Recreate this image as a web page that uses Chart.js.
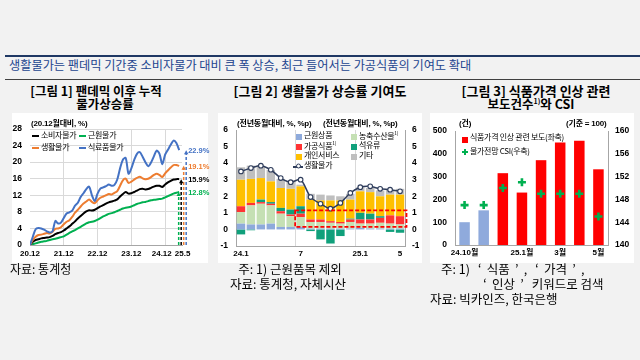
<!DOCTYPE html>
<html><head><meta charset="utf-8">
<script src="https://cdn.jsdelivr.net/npm/chart.js@4"></script>
<style>
body{margin:0;width:640px;height:360px;background:#f2f2f2;position:relative;overflow:hidden;font-family:"Noto Sans CJK KR","Noto Sans",sans-serif;color:#000;}
.a{position:absolute;white-space:nowrap;line-height:1.15;}
.c{transform:translateX(-50%);}
.panel{position:absolute;background:#fff;}
canvas{position:absolute;}
.ax{font-family:"Liberation Sans",Arial,sans-serif;font-weight:bold;font-size:8px;letter-spacing:-0.2px;}
.ax k{font-family:"Noto Sans CJK KR";}
.lg{font-size:8px;letter-spacing:-0.3px;}
.sq{position:absolute;width:6px;height:6px;}
.ln{position:absolute;height:2px;width:7px;}
.q{display:inline-block;width:14px;text-align:center;}
</style></head>
<body>
<div class="a" style="left:5px;top:55px;width:635px;height:2px;background:#1f3864;"></div>
<div class="a" style="left:9px;top:58px;font-size:12.2px;color:#23458f;">생활물가는 팬데믹 기간중 소비자물가 대비 큰 폭 상승, 최근 들어서는 가공식품의 기여도 확대</div>
<div class="a" style="left:5px;top:79px;width:635px;height:1px;background:#404040;"></div>

<div class="a c" style="left:96px;top:84px;font-size:12.5px;font-weight:bold;">[그림 1] 팬데믹 이후 누적</div>
<div class="a c" style="left:105px;top:97px;font-size:12.5px;font-weight:bold;">물가상승률</div>
<div class="a c" style="left:320px;top:84px;font-size:13px;font-weight:bold;">[그림 2] 생활물가 상승률 기여도</div>
<div class="a c" style="left:536px;top:84px;font-size:13px;font-weight:bold;">[그림 3] 식품가격 인상 관련</div>
<div class="a c" style="left:531px;top:97px;font-size:12.5px;font-weight:bold;">보도건수<sup style="font-size:7px">1)</sup>와 CSI</div>

<div class="panel" style="left:12px;top:113px;width:196px;height:150px;"></div>
<div class="panel" style="left:218px;top:113px;width:204px;height:150px;"></div>
<div class="panel" style="left:430px;top:113px;width:204px;height:150px;"></div>

<canvas id="c1" width="200" height="152" style="left:10px;top:113px;"></canvas>
<canvas id="c2" width="206" height="152" style="left:216px;top:113px;"></canvas>
<canvas id="c3" width="206" height="152" style="left:428px;top:113px;"></canvas>

<!-- chart 1 overlays -->
<div class="a ax" style="left:31px;top:118px;">(20.12<k>월대비</k>, %)</div>
<div class="ln" style="left:32px;top:135px;background:#000;"></div>
<div class="a lg" style="left:41px;top:130px;">소비자물가</div>
<div class="ln" style="left:79px;top:135px;background:#00b050;"></div>
<div class="a lg" style="left:88px;top:130px;">근원물가</div>
<div class="ln" style="left:32px;top:147px;background:#ed7d31;"></div>
<div class="a lg" style="left:41px;top:142px;">생활물가</div>
<div class="ln" style="left:79px;top:147px;background:#4472c4;"></div>
<div class="a lg" style="left:88px;top:142px;">식료품물가</div>

<!-- chart 2 overlays -->
<div class="a ax" style="left:237px;top:118px;">(<k>전년동월대비</k>, %, %p)</div>
<div class="a ax" style="left:323px;top:118px;">(<k>전년동월대비</k>, %, %p)</div>
<div class="sq" style="left:296px;top:134px;background:#8eaadb;"></div>
<div class="a lg" style="left:304px;top:130px;">근원상품</div>
<div class="sq" style="left:351px;top:134px;background:#c5e0b4;"></div>
<div class="a lg" style="left:359px;top:130px;">농축수산물<sup style="font-size:5px">1)</sup></div>
<div class="sq" style="left:296px;top:144px;background:#ff3333;"></div>
<div class="a lg" style="left:304px;top:140px;">가공식품<sup style="font-size:5px">1)</sup></div>
<div class="sq" style="left:351px;top:144px;background:#10a07b;"></div>
<div class="a lg" style="left:359px;top:140px;">석유류</div>
<div class="sq" style="left:296px;top:154px;background:#ffc000;"></div>
<div class="a lg" style="left:304px;top:150px;">개인서비스</div>
<div class="sq" style="left:351px;top:154px;background:#bfbfbf;"></div>
<div class="a lg" style="left:359px;top:150px;">기타</div>
<div class="a" style="left:293px;top:166px;width:10px;height:1.5px;background:#2f3d5c;"></div>
<div class="a" style="left:295.5px;top:164.5px;width:5px;height:5px;border:1px solid #2f3d5c;border-radius:50%;background:#fff;box-sizing:border-box;transform:translateY(-1.5px);"></div>
<div class="a lg" style="left:304px;top:160px;">생활물가</div>

<!-- chart 3 overlays -->
<div class="a ax" style="left:459px;top:118px;">(<k>건</k>)</div>
<div class="a ax" style="left:566px;top:118px;">(<k>기준</k> = 100)</div>
<div class="sq" style="left:462px;top:137px;background:#ff0000;"></div>
<div class="a lg" style="left:470px;top:132px;">식품가격 인상 관련 보도(좌축)</div>
<div class="a" style="left:462px;top:151px;width:6px;height:2px;background:#00b050;"></div>
<div class="a" style="left:464px;top:149px;width:2px;height:6px;background:#00b050;"></div>
<div class="a lg" style="left:470px;top:146px;">물가전망 CSI(우축)</div>

<!-- notes -->
<div class="a" style="left:10px;top:262px;font-size:12px;">자료: 통계청</div>
<div class="a c" style="left:290px;top:262px;font-size:12.5px;">주: 1) 근원품목 제외</div>
<div class="a c" style="left:288px;top:277px;font-size:12.5px;">자료: 통계청, 자체시산</div>
<div class="a" style="left:441px;top:262px;font-size:12.5px;">주: 1) <span class="q">‘</span>식품<span class="q">’</span>, <span class="q">‘</span>가격<span class="q">’</span>,</div>
<div class="a" style="left:478px;top:277px;font-size:12.5px;"><span class="q">‘</span>인상<span class="q">’</span> 키워드로 검색</div>
<div class="a" style="left:430px;top:292px;font-size:12.5px;">자료: 빅카인즈, 한국은행</div>

<script>
// ---------- Chart 1 data (cumulative % since 2020.12, monthly 20.12 ~ 25.5) ----------
const tickIdx1 = [0, 12, 24, 36, 48, 53];
const tickLabels1 = ['20.12', '21.12', '22.12', '23.12', '24.12', '25.5'];
const food1 = [0,2.0,3.8,4.1,4.0,3.7,3.3,3.0,3.3,5.8,5.2,5.4,6.5,7.6,7.9,8.3,9.5,10.2,11.6,12.5,13.5,14.1,12.0,10.6,12.4,13.6,13.9,14.2,14.6,14.3,14.5,15.8,18.5,20.6,21.0,17.2,18.5,20.5,22.0,22.4,21.3,20.0,19.0,19.9,21.4,22.8,22.0,19.5,21.8,23.0,24.2,25.2,24.6,22.9];
const living1 = [0,1.2,2.0,2.4,2.5,2.7,2.9,2.8,3.2,3.9,4.0,4.3,5.0,5.6,6.0,6.8,7.8,8.5,9.3,10.0,10.5,11.0,10.4,10.1,10.8,11.4,11.7,12.0,12.3,12.2,12.6,13.0,14.3,15.6,16.0,15.0,15.3,15.8,16.2,16.5,16.1,15.9,16.0,16.4,16.9,17.2,16.9,16.4,17.3,18.0,18.7,19.3,19.3,19.1];
const cpi1 = [0,0.8,1.2,1.4,1.6,1.7,1.8,1.9,2.2,2.6,2.9,3.1,3.5,4.0,4.5,5.1,5.7,6.4,7.0,7.6,8.1,8.4,8.3,8.5,8.9,9.3,9.6,10.0,10.3,10.5,10.7,11.0,11.7,12.3,12.8,12.4,12.5,12.8,13.1,13.5,13.6,13.4,13.5,13.8,14.1,14.3,14.3,14.0,14.6,15.1,15.5,15.8,15.9,15.9];
const core1 = [0,0.2,0.4,0.6,0.8,0.9,1.0,1.2,1.4,1.5,1.7,1.9,2.1,2.5,2.9,3.3,3.6,4.0,4.4,4.8,5.2,5.5,5.6,5.8,6.1,6.5,6.9,7.2,7.5,7.7,7.9,8.2,8.5,8.8,9.0,9.1,9.3,9.6,9.9,10.1,10.3,10.4,10.6,10.8,10.9,11.0,11.1,11.2,11.5,11.8,12.1,12.4,12.6,12.8];

// ---------- Chart 2 data (contribution, %p; 24.1 ~ 25.5) ----------
const months2 = ['24.1','24.2','24.3','24.4','24.5','24.6','24.7','24.8','24.9','24.10','24.11','24.12','25.1','25.2','25.3','25.4','25.5'];
const shownLabels2 = {'24.1':'24.1','24.7':'7','25.1':'25.1','25.5':'5'};
const coreGoods2 = [0.35,0.3,0.3,0.35,0.15,0.15,0.15,0.05,0.05,0.05,0.05,0.05,0.1,0.05,0.05,0.05,0.05];
const agri2 = [0.7,1.15,1.25,1.1,0.8,0.65,0.6,0.4,0.4,0.35,0.3,0.4,0.25,0.3,0.35,0.3,0.25];
const processed2 = [0.35,0.15,0.1,0.1,0.15,0.1,0.2,0.15,0.15,0.1,0.1,0.15,0.25,0.25,0.3,0.5,0.5];
const oil2 = [-0.3,-0.05,0.15,0.1,0.2,0.3,0.45,-0.1,-0.6,-0.85,-0.4,0.05,0.4,0.35,0.1,-0.15,-0.2];
const service2 = [1.6,1.45,1.3,1.25,1.2,1.25,1.2,1.2,1.15,1.25,1.3,1.15,1.3,1.3,1.2,1.25,1.3];
const other2 = [0.75,0.8,0.75,0.7,0.55,0.45,0.1,0.35,0.35,0.3,0.25,0.35,0.25,0.25,0.35,0.3,0.35];
const living2 = [3.5,3.7,3.85,3.6,3.1,2.85,3.0,1.95,1.55,1.25,1.6,2.2,2.55,2.6,2.45,2.4,2.3];
const boxFrom2 = '24.7', boxTo2 = '25.5', boxLow2 = 0.15, boxHigh2 = 1.15;

// ---------- Chart 3 data ----------
const months3 = ['24.10','24.11','24.12','25.1','25.2','25.3','25.4','25.5'];
const shownLabels3 = {'24.10':'24.10월','25.1':'25.1월','25.3':'3월','25.5':'5월'};
const reports3 = [100,152,315,230,372,450,457,332];
const csi3 = [147,147,150,151,149,149,149,145];

Chart.defaults.font.family = "'Liberation Sans', Arial, sans-serif";
Chart.defaults.color = '#000';
Chart.defaults.animation = false;
const tickFont = {size: 8.5, weight: 'bold'};
const noGrid = {display:false, drawTicks:false};
const baseOpts = {responsive:false, devicePixelRatio:1, animation:false, plugins:{legend:{display:false}, tooltip:{enabled:false}}};

// ================= Chart 1 =================
const arrowPlugin = {
  id: 'arrows',
  afterDatasetsDraw(chart) {
    const {ctx, scales:{x, y}} = chart;
    const lastIdx = tickIdx1[tickIdx1.length - 1];
    const xl = x.getPixelForValue(lastIdx);
    const y0 = y.getPixelForValue(0);
    const dxs = [7, 4.5, 2, -0.5];
    ctx.save();
    chart.data.datasets.forEach((ds, i) => {
      const v = ds.data[ds.data.length - 1].y;
      const yp = y.getPixelForValue(v);
      const xp = xl + dxs[i];
      ctx.strokeStyle = ds.borderColor; ctx.fillStyle = ds.borderColor;
      ctx.lineWidth = 1.5; ctx.setLineDash([3, 2]);
      ctx.beginPath(); ctx.moveTo(xp, y0); ctx.lineTo(xp, yp + 3); ctx.stroke();
      ctx.setLineDash([]);
      ctx.beginPath(); ctx.moveTo(xp - 2.2, yp + 4); ctx.lineTo(xp + 2.2, yp + 4); ctx.lineTo(xp, yp); ctx.closePath(); ctx.fill();
      ctx.font = 'bold 7.5px "Liberation Sans", Arial';
      ctx.textBaseline = 'middle'; ctx.textAlign = 'left';
      ctx.fillStyle = ds.labelColor;
      ctx.fillText(v.toFixed(1) + '%', xl + 9, yp + 1);
    });
    ctx.restore();
  },
  afterDraw(chart) {
    const {ctx, scales:{x}} = chart;
    ctx.save();
    ctx.font = 'bold 8px "Liberation Sans", Arial';
    ctx.textBaseline = 'top'; ctx.textAlign = 'center';
    const items = tickIdx1.map((v, i) => {
      const w = ctx.measureText(tickLabels1[i]).width;
      return {c: x.getPixelForValue(v), w, t: tickLabels1[i]};
    });
    for (let i = 1; i < items.length; i++) {
      const prevR = items[i-1].c + items[i-1].w/2, curL = items[i].c - items[i].w/2;
      const ov = prevR + 3 - curL;
      if (ov > 0) { items[i-1].c -= ov/2; items[i].c += ov/2; }
    }
    items.forEach(it => ctx.fillText(it.t, it.c, x.bottom - 11));
    ctx.restore();
  }
};
const toXY = arr => arr.map((v, i) => ({x: i, y: v}));
new Chart(document.getElementById('c1'), {
  type: 'line',
  data: {datasets: [
    {label:'식료품물가', data: toXY(food1), borderColor:'#4472c4', labelColor:'#4472c4', borderWidth:2, pointRadius:0, tension:0.3},
    {label:'생활물가', data: toXY(living1), borderColor:'#ed7d31', labelColor:'#ed7d31', borderWidth:2, pointRadius:0, tension:0.3},
    {label:'소비자물가', data: toXY(cpi1), borderColor:'#000000', labelColor:'#000000', borderWidth:2, pointRadius:0, tension:0.3},
    {label:'근원물가', data: toXY(core1), borderColor:'#00b050', labelColor:'#00b050', borderWidth:2, pointRadius:0, tension:0.3}
  ]},
  options: {...baseOpts,
    layout: {padding: {left: 2, top: 16, right: 28, bottom: 4}},
    scales: {
      x: {type:'linear', min:0, max:54,
        afterBuildTicks: s => { s.ticks = tickIdx1.map(v => ({value: v})); },
        afterFit: s => { s.height = 16; },
        ticks: {display:false},
        grid: {color: c => (c.tick && c.tick.value > 0 && c.tick.value < 53) ? '#d9d9d9' : 'rgba(0,0,0,0)', drawTicks:false},
        border: {color:'#a6a6a6'}},
      y: {min:0, max:28, afterFit: s => { s.width = 18; },
        ticks: {stepSize:4, font: tickFont, padding: 8},
        grid: {color:'#d9d9d9', drawTicks:false},
        border: {display:false}}
    }
  },
  plugins: [arrowPlugin]
});

// ================= Chart 2 =================
const boxPlugin = {
  id: 'box',
  afterDatasetsDraw(chart) {
    const {ctx, scales:{x, y}} = chart;
    const i0 = months2.indexOf(boxFrom2), i1 = months2.indexOf(boxTo2);
    const w = x.getPixelForValue(1) - x.getPixelForValue(0);
    const l = x.getPixelForValue(i0) - w*0.55, r = x.getPixelForValue(i1) + w*0.65;
    const t = y.getPixelForValue(boxHigh2), b = y.getPixelForValue(boxLow2);
    ctx.save();
    ctx.strokeStyle = '#ff0000'; ctx.lineWidth = 1.8; ctx.setLineDash([4, 2]);
    ctx.strokeRect(l, t, r - l, b - t);
    ctx.restore();
  }
};
const barDs = (label, data, color) => ({type:'bar', label, data, backgroundColor: color, stack:'s', barPercentage:0.85, categoryPercentage:1, order:2});
new Chart(document.getElementById('c2'), {
  type: 'bar',
  data: {labels: months2, datasets: [
    {type:'line', label:'생활물가', data: living2, borderColor:'#2f3d5c', borderWidth:1.5, pointRadius:2.3, pointBackgroundColor:'#fff', pointBorderColor:'#2f3d5c', pointBorderWidth:1.1, tension:0.3, order:0},
    barDs('근원상품', coreGoods2, '#8eaadb'),
    barDs('농축수산물', agri2, '#c5e0b4'),
    barDs('가공식품', processed2, '#ff3333'),
    barDs('석유류', oil2, '#10a07b'),
    barDs('개인서비스', service2, '#ffc000'),
    barDs('기타', other2, '#bfbfbf')
  ]},
  options: {...baseOpts,
    layout: {padding: {left: 4, top: 17, right: 3, bottom: 5}},
    scales: {
      x: {stacked:true, afterFit: s => { s.height = 14; },
        ticks: {autoSkip:false, maxRotation:0, font:{size:8, weight:'bold'}, padding:3,
          callback: (v, i) => shownLabels2[months2[i]] || ''},
        grid: {offset:true, color: c => (c.index === 6 || c.index === 12) ? '#d9d9d9' : 'rgba(0,0,0,0)', drawTicks:false},
        border: {color:'#a6a6a6'}},
      y: {stacked:true, min:-1, max:6, afterFit: s => { s.width = 16; },
        ticks: {stepSize:1, font: tickFont, padding: 8},
        grid: noGrid, border: {color:'#a6a6a6'}},
      y2: {position:'right', min:-1, max:6, afterFit: s => { s.width = 14; },
        ticks: {stepSize:1, font: tickFont, padding: 7},
        grid: noGrid, border: {color:'#a6a6a6'}}
    }
  },
  plugins: [boxPlugin]
});

// ================= Chart 3 =================
new Chart(document.getElementById('c3'), {
  type: 'bar',
  data: {labels: months3, datasets: [
    {type:'line', label:'물가전망 CSI(우축)', data: csi3, yAxisID:'y2', showLine:false, pointStyle:'cross', pointRadius:4, pointBorderWidth:2.6, pointBorderColor:'#00b050', order:0},
    {type:'bar', label:'식품가격 인상 관련 보도(좌축)', data: reports3, yAxisID:'y',
      backgroundColor: c => c.dataIndex < 2 ? '#8faadc' : '#ff0000', barPercentage:0.55, categoryPercentage:1, order:1}
  ]},
  options: {...baseOpts,
    layout: {padding: {left: 0, top: 18, right: 0, bottom: 6}},
    scales: {
      x: {afterFit: s => { s.height = 14; },
        ticks: {autoSkip:false, maxRotation:0, font:{size:8, weight:'bold', family:"'Liberation Sans','Noto Sans CJK KR'"}, padding:3,
          callback: (v, i) => shownLabels3[months3[i]] || ''},
        grid: noGrid, border: {color:'#a6a6a6'}},
      y: {position:'left', min:0, max:500, afterFit: s => { s.width = 27; },
        ticks: {stepSize:100, font: tickFont, padding: 8},
        grid: noGrid, border: {color:'#a6a6a6'}},
      y2: {position:'right', min:140, max:160, afterFit: s => { s.width = 26; },
        ticks: {stepSize:4, font: tickFont, padding: 7},
        grid: noGrid, border: {color:'#a6a6a6'}}
    }
  }
});
</script>
</body></html>
